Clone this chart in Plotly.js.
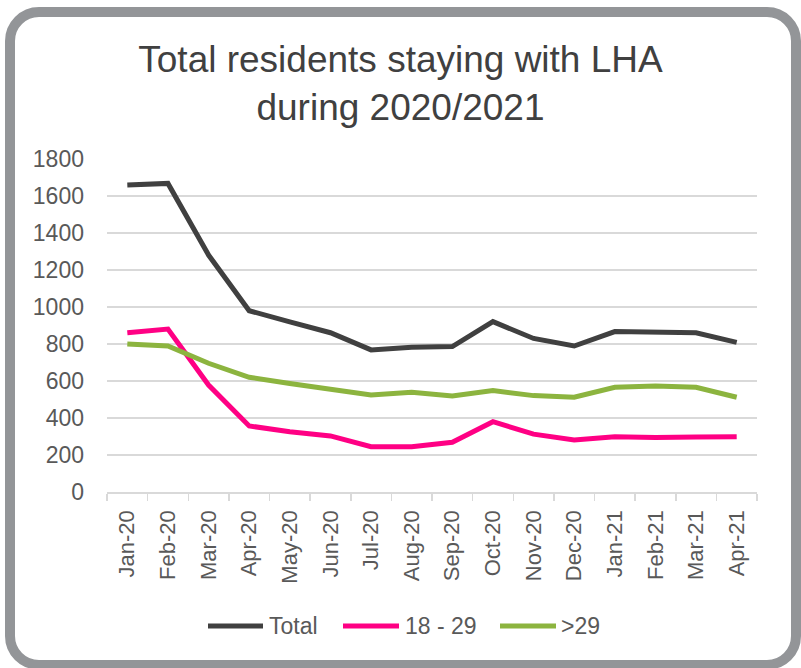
<!DOCTYPE html>
<html>
<head>
<meta charset="utf-8">
<script src="https://cdn.plot.ly/plotly-3.0.1.min.js"></script>
<style>
  html, body { margin:0; padding:0; background:#ffffff; }
  #frame { position:absolute; left:5px; top:7px; width:796px; height:663px; box-sizing:border-box;
           border:10px solid #939598; border-radius:34px; background:#ffffff; }
  #chart { position:absolute; left:0; top:0; width:801px; height:668px; }
</style>
</head>
<body>
<div id="frame"></div>
<div id="chart"></div>
<script>
const months = ["Jan-20","Feb-20","Mar-20","Apr-20","May-20","Jun-20","Jul-20","Aug-20","Sep-20","Oct-20","Nov-20","Dec-20","Jan-21","Feb-21","Mar-21","Apr-21"];
const total   = [1660,1668,1281,980,920,861,768,782,786,921,830,789,867,863,861,809];
const age1829 = [861,881,578,357,326,303,245,245,269,380,313,281,299,294,297,299];
const over29  = [800,789,696,620,587,555,524,539,519,548,521,512,566,573,566,512];
const yTicks  = [0,200,400,600,800,1000,1200,1400,1600,1800];
const seriesNames  = ["Total","18 - 29",">29"];
const seriesColors = ["#404040","#ff0084","#8cb43f"];

const W = 801, H = 668;
const M = {l: 107, r: 44, t: 159, b: 176};
const PW = W - M.l - M.r, PH = H - M.t - M.b;
const px2x = p => (p - M.l) / PW;
const py2y = p => (H - M.b - p) / PH;

const traces = [total, age1829, over29].map((vals, i) => ({
  x: months, y: vals, name: seriesNames[i], type: "scatter", mode: "lines",
  line: {color: seriesColors[i], width: 5}
}));

// custom legend (line sample + label) placed below the chart
const legendLines = [[208, 263, 268], [343, 399, 404], [500, 556, 560]];
const legendY = 626;
const shapes = legendLines.map((p, i) => ({
  type: "line", xref: "paper", yref: "paper",
  x0: px2x(p[0]), x1: px2x(p[1]), y0: py2y(legendY), y1: py2y(legendY),
  line: {color: seriesColors[i], width: 5}
}));
const annotations = legendLines.map((p, i) => ({
  xref: "paper", yref: "paper", x: px2x(p[2]), y: py2y(legendY),
  xanchor: "left", yanchor: "middle", showarrow: false, text: seriesNames[i],
  font: {size: 23, color: "#595959"}, xshift: -1
}));

const layout = {
  width: W, height: H,
  paper_bgcolor: "rgba(0,0,0,0)", plot_bgcolor: "rgba(0,0,0,0)",
  margin: M,
  font: {family: "Liberation Sans, Arial, sans-serif", color: "#595959"},
  title: {text: "Total residents staying with LHA<br>during 2020/2021",
          font: {size: 37, color: "#404040", family: "Liberation Sans, Arial, sans-serif"},
          x: 0.5, xanchor: "center", y: 1 - 72/668, yanchor: "top", yref: "container"},
  xaxis: {type: "category", range: [-0.5, months.length - 0.5], tickangle: -90,
          tickfont: {size: 22, color: "#595959"},
          showgrid: false, showline: true, linecolor: "#d9d9d9", linewidth: 1.5,
          ticks: "outside", tickson: "boundaries", ticklen: 7, tickcolor: "#d9d9d9", tickwidth: 1.5,
          zeroline: false, fixedrange: true, automargin: false, ticklabelstandoff: 8},
  yaxis: {range: [0, 1800], tickvals: yTicks, ticktext: yTicks.map(String),
          tickfont: {size: 23, color: "#595959"}, showgrid: true, gridcolor: "#d9d9d9", gridwidth: 1.5,
          zeroline: false, showline: false, ticks: "", ticklabelstandoff: 22, fixedrange: true,
          automargin: false},
  showlegend: false,
  shapes: shapes,
  annotations: annotations
};

Plotly.newPlot("chart", traces, layout, {displayModeBar: false, staticPlot: true});
</script>
</body>
</html>
